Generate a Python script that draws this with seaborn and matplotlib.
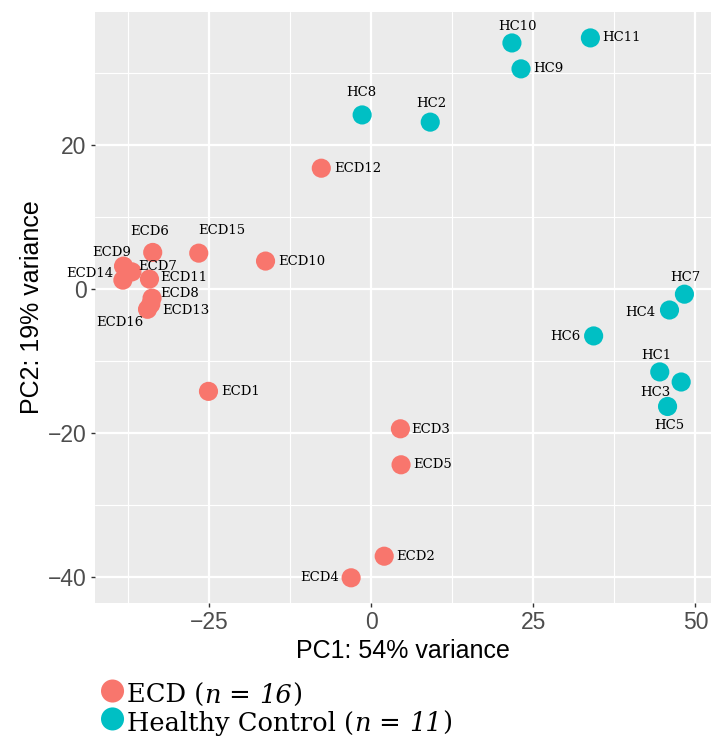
import matplotlib
matplotlib.use("Agg")
import matplotlib.pyplot as plt
import seaborn as sns
import pandas as pd
from matplotlib.offsetbox import TextArea, DrawingArea, HPacker, VPacker, AnchoredOffsetbox
from matplotlib.patches import Circle

# ---- data ----
ecd_names = ["ECD1", "ECD2", "ECD3", "ECD4", "ECD5", "ECD6", "ECD7", "ECD8",
             "ECD9", "ECD10", "ECD11", "ECD12", "ECD13", "ECD14", "ECD15", "ECD16"]
ecd_pc1 = [-25.1, 2.0, 4.5, -3.1, 4.6, -33.7, -36.9, -33.8,
           -38.2, -16.3, -34.2, -7.7, -34.0, -38.3, -26.6, -34.5]
ecd_pc2 = [-14.2, -37.1, -19.4, -40.1, -24.4, 5.1, 2.4, -1.25,
           3.2, 3.9, 1.4, 16.8, -2.1, 1.25, 5.0, -2.8]

hc_names = ["HC1", "HC2", "HC3", "HC4", "HC5", "HC6", "HC7", "HC8", "HC9", "HC10", "HC11"]
hc_pc1 = [44.5, 9.1, 47.8, 46.0, 45.7, 34.3, 48.3, -1.4, 23.1, 21.7, 33.8]
hc_pc2 = [-11.5, 23.2, -12.9, -2.9, -16.3, -6.5, -0.7, 24.2, 30.6, 34.2, 34.9]

groups = ["ECD", "Healthy Control"]
group_n = ["16", "11"]
x_ticks = [-25, 0, 25, 50]
y_ticks = [-40, -20, 0, 20]
x_label = "PC1: 54% variance"
y_label = "PC2: 19% variance"

# ---- label placement (pixel offsets, ha) ----
label_pos = {
    "ECD1": (13, 0, "left"), "ECD2": (12, 0, "left"), "ECD3": (11, -1, "left"),
    "ECD4": (-12, 0, "right"), "ECD5": (12, 0, "left"), "ECD6": (-3, 21, "center"),
    "ECD7": (26, 5, "center"), "ECD8": (28, 5, "center"), "ECD9": (-12, 14, "center"),
    "ECD10": (13, 0, "left"), "ECD11": (34, 2, "center"), "ECD12": (13, 0, "left"),
    "ECD13": (35, -6, "center"), "ECD14": (-33, 7, "center"), "ECD15": (23, 23, "center"),
    "ECD16": (-28, -13, "center"),
    "HC1": (-3, 16, "center"), "HC2": (1, 19, "center"), "HC3": (-26, -10, "center"),
    "HC4": (-14, -2, "right"), "HC5": (2, -19, "center"), "HC6": (-13, -1, "right"),
    "HC7": (1, 17, "center"), "HC8": (-1, 22, "center"), "HC9": (12, 0, "left"),
    "HC10": (6, 16, "center"), "HC11": (12, 0, "left"),
}

df = pd.DataFrame({
    "name": ecd_names + hc_names,
    "PC1": ecd_pc1 + hc_pc1,
    "PC2": ecd_pc2 + hc_pc2,
    "group": [groups[0]] * len(ecd_names) + [groups[1]] * len(hc_names),
})

sns.set_theme(style="darkgrid")
plt.rcParams["font.family"] = ["Liberation Sans", "DejaVu Sans"]

palette = {"ECD": "#F8766D", "Healthy Control": "#00BFC4"}

fig = plt.figure(figsize=(7.11, 7.40), dpi=100)
ax = fig.add_axes([95 / 711, 1 - 603 / 740, 1 - 95 / 711, (603 - 12) / 740])
ax.set_facecolor("#EBEBEB")

sns.scatterplot(data=df, x="PC1", y="PC2", hue="group", palette=palette,
                s=190, linewidth=0, ax=ax, legend=False, zorder=3)

for _, r in df.iterrows():
    dx, dy, ha = label_pos[r["name"]]
    ax.annotate(r["name"], (r["PC1"], r["PC2"]), xytext=(dx, dy),
                textcoords="offset pixels", ha=ha, va="center",
                fontsize=9.5, family="DejaVu Serif", color="black", zorder=4)

ax.set_xlim(-42.6, 52.4)
ax.set_ylim(-43.6, 38.5)
ax.set_xticks(x_ticks)
ax.set_yticks(y_ticks)
ax.set_xticks([-37.5, -12.5, 12.5, 37.5], minor=True)
ax.set_yticks([-30, -10, 10, 30], minor=True)
ax.grid(which="major", color="white", linewidth=1.6)
ax.grid(which="minor", color="white", linewidth=0.8)
ax.set_axisbelow(True)
for sp in ax.spines.values():
    sp.set_visible(False)
ax.tick_params(axis="both", which="major", length=3, width=1, color="#333333",
               labelsize=16.5, labelcolor="#4D4D4D", pad=3, bottom=True, left=True)
ax.tick_params(axis="both", which="minor", length=0)
ax.set_xlabel(x_label, fontsize=18, color="black", labelpad=3)
ax.set_ylabel(y_label, fontsize=18, color="black", labelpad=3)

# ---- legend with italic n and counts ----
serif = dict(family="DejaVu Serif", size=18.5, color="black")
serif_it = dict(family="DejaVu Serif", size=18.5, color="black", style="italic")
rows = []
for g, n in zip(groups, group_n):
    da = DrawingArea(19, 17, 0, 2)
    da.add_artist(Circle((8.3, 8.5), 8.3, facecolor=palette[g], edgecolor="none"))
    parts = [TextArea(g + " (", textprops=serif), TextArea("n", textprops=serif_it),
             TextArea(" = ", textprops=serif), TextArea(n, textprops=serif_it),
             TextArea(")", textprops=serif)]
    rows.append(HPacker(children=[da] + parts, align="baseline", pad=0, sep=0))
box = VPacker(children=rows, align="left", pad=0, sep=1.5)
anchored = AnchoredOffsetbox(loc="upper left", child=box, pad=0, borderpad=0, frameon=False,
                             bbox_to_anchor=(101 / 711, 1 - 682 / 740),
                             bbox_transform=fig.transFigure)
fig.add_artist(anchored)

fig.savefig("out.png", dpi=100)
